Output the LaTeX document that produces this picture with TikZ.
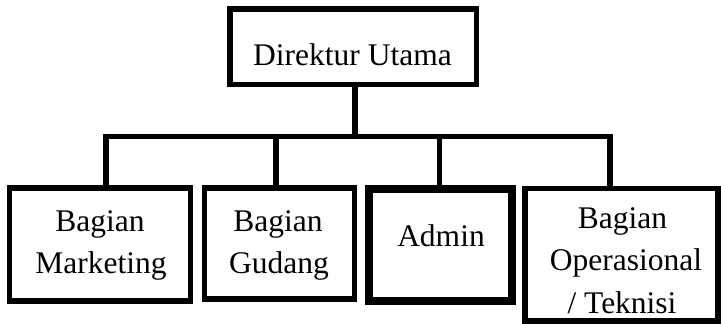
\documentclass[tikz,border=0pt]{standalone}
\usepackage{fontspec}
\setmainfont{Liberation Serif}
\begin{document}
\begin{tikzpicture}[x=1pt,y=-1pt,
  box/.style={draw=black,line width=5.5pt,rectangle,inner sep=0pt,outer sep=0pt},
  thickbox/.style={box,line width=7.5pt},
  lbl/.style={anchor=base,inner sep=0pt,font=\fontsize{31.5}{40}\selectfont},
  conn/.style={draw=black,line width=5.5pt}]
\useasboundingbox (0,0) rectangle (721,324);
% boxes
\node[box,minimum width=246.5pt,minimum height=75.5pt] (top) at (353.25,46.75) {};
\node[box,minimum width=181pt,minimum height=113pt] (mkt) at (100,244.5) {};
\node[box,minimum width=150pt,minimum height=111pt] (gud) at (279.5,243.5) {};
\node[thickbox,minimum width=143pt,minimum height=112pt] (adm) at (440.5,245) {};
\node[box,minimum width=193pt,minimum height=132.5pt] (ops) at (621.5,254.75) {};
% texts
\node[lbl] (tTop) at (352.5,65) {Direktur Utama};
\node[lbl] (tMkt1) at (100,231) {Bagian};
\node[lbl] (tMkt2) at (101,273) {Marketing};
\node[lbl] (tGud1) at (278,231) {Bagian};
\node[lbl] (tGud2) at (279,273) {Gudang};
\node[lbl] (tAdm) at (441,246) {Admin};
\node[lbl] (tOps1) at (622.5,228) {Bagian};
\node[lbl] (tOps2) at (626,270) {Operasional};
\node[lbl] (tOps3) at (622,313) {/ Teknisi};
% connectors
\coordinate (hub) at (355,136.5);
\coordinate (d1) at (106,136.5);
\coordinate (d2) at (276,136.5);
\coordinate (d3) at (439.5,136.5);
\coordinate (d4) at (610,136.5);
\draw[conn] (hub |- top.south) -- (hub);
\draw[conn] (d1 |- mkt.north) -- (d1) -- (d4) -- (d4 |- ops.north);
\draw[conn] (d2) -- (d2 |- gud.north);
\draw[conn] (d3) -- (d3 |- adm.north);
\end{tikzpicture}
\end{document}
